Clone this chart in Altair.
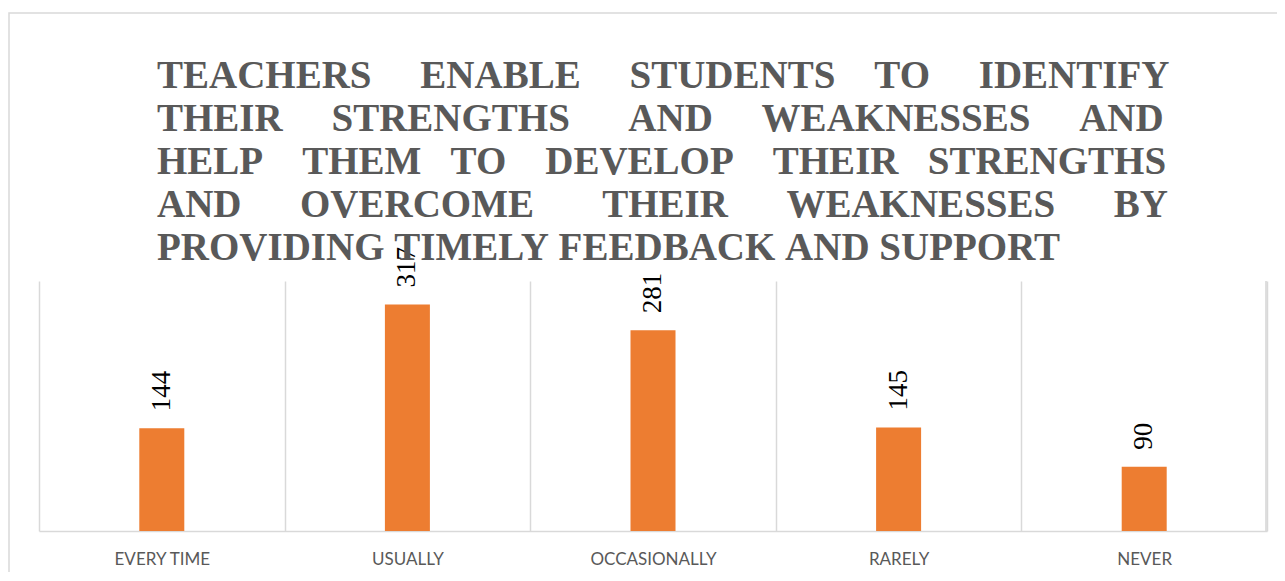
import altair as alt
import pandas as pd

categories = ["EVERY TIME", "USUALLY", "OCCASIONALLY", "RARELY", "NEVER"]
counts = [144, 317, 281, 145, 90]
title_lines = [
    "TEACHERS ENABLE STUDENTS TO IDENTIFY",
    "THEIR STRENGTHS AND WEAKNESSES AND",
    "HELP THEM TO DEVELOP THEIR STRENGTHS",
    "AND OVERCOME THEIR WEAKNESSES BY",
    "PROVIDING TIMELY FEEDBACK AND SUPPORT",
]

# number of no-break spaces between words, to imitate the justified title
gaps = [[5, 5, 4, 5], [5, 6, 5, 5], [4, 3, 4, 4, 3], [6, 7, 6, 6], [1, 1, 1, 1]]
NBSP = "\u00a0"


def justify(line, g):
    words = line.split(" ")
    out = words[0]
    for w, n in zip(words[1:], g):
        out += NBSP * n + w
    return out


title_text = [justify(l, g) for l, g in zip(title_lines, gaps)]

df = pd.DataFrame({"category": categories, "count": counts})

x = alt.X(
    "category:N",
    sort=categories,
    scale=alt.Scale(paddingInner=0, paddingOuter=0),
    axis=alt.Axis(
        title=None,
        domainColor="#d9d9d9",
        domainWidth=1.5,
        grid=True,
        gridColor="#d9d9d9",
        gridWidth=1.5,
        tickBand="extent",
        ticks=False,
        labelAngle=0,
        labelFont="Lato",
        labelFontSize=17,
        labelColor="#595959",
        labelPadding=20,
    ),
)
y = alt.Y("count:Q", scale=alt.Scale(domain=[0, 350]), axis=None)

bars = alt.Chart(df).mark_bar(color="#ED7D31", size=45).encode(x=x, y=y)
labels = alt.Chart(df).mark_text(
    angle=270, align="left", baseline="middle", dx=17,
    font="Liberation Serif", fontSize=27, color="#000000",
).encode(x=x, y=y, text="count:Q")

frame = alt.Chart(alt.Data(values=[{"k": 0}])).mark_rect(
    fillOpacity=0, stroke="#d9d9d9", strokeWidth=1.5
).encode(x=alt.value(-30), x2=alt.value(1300), y=alt.value(-268), y2=alt.value(400))

# closing grid line at the right end of the plot
right_edge = alt.Chart(alt.Data(values=[{"k": 0}])).mark_rule(
    color="#d4d4d4", strokeWidth=1.5
).encode(x=alt.value(1227), y=alt.value(0), y2=alt.value(250))

chart = alt.layer(frame, bars, labels, right_edge).properties(
    width=1228,
    height=250,
    background="white",
    title=alt.TitleParams(
        text=title_text,
        font="Liberation Serif",
        fontSize=39,
        fontWeight="bold",
        color="#595959",
        anchor="start",
        frame="group",
        lineHeight=43,
        dx=118,
        dy=256,
        offset=0,
    ),
    padding={"left": 31, "top": 273, "right": 10, "bottom": 41},
    autosize=alt.AutoSizeParams(type="none"),
).configure_view(stroke="transparent", strokeWidth=0)

chart.save("out.html", embed_options={"renderer": "svg", "actions": False})
